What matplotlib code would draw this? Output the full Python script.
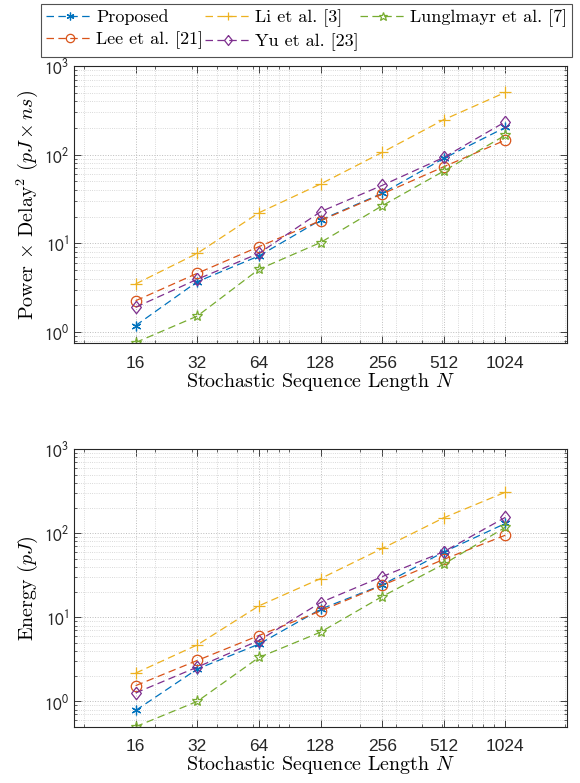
import matplotlib
matplotlib.use("Agg")
import matplotlib.pyplot as plt
from matplotlib.ticker import FixedLocator, FixedFormatter, LogLocator, NullFormatter

plt.rcParams['font.family'] = ['Liberation Sans', 'DejaVu Sans']
plt.rcParams['mathtext.fontset'] = 'stixsans'
plt.rcParams['axes.unicode_minus'] = False

# data
N = [16, 32, 64, 128, 256, 512, 1024]
n_labels = ['16', '32', '64', '128', '256', '512', '1024']

names = ['Proposed', 'Lee et al. [21]', 'Li et al. [3]', 'Yu et al. [23]', 'Lunglmayr et al. [7]']

pdd_proposed = [1.18, 3.69, 7.19, 18.3, 36.6, 90.8, 203]
pdd_lee = [2.25, 4.59, 9.16, 18.0, 36.0, 73, 146]
pdd_li = [3.48, 7.7, 22.1, 46.6, 106, 248, 504]
pdd_yu = [1.90, 3.93, 7.7, 22.7, 45, 93, 235]
pdd_lung = [0.76, 1.51, 5.09, 10.2, 26.5, 65.3, 166]

energy_proposed = [0.78, 2.43, 4.8, 12.5, 24.3, 60, 131]
energy_lee = [1.54, 3.07, 6.08, 11.9, 24, 49, 95]
energy_li = [2.17, 4.7, 13.7, 28.9, 66, 153, 309]
energy_yu = [1.26, 2.56, 5.3, 15, 30.5, 60.5, 155]
energy_lung = [0.50, 1.0, 3.33, 6.67, 17.7, 43, 118]

colors = ['#0072BD', '#D95319', '#EDB120', '#7E2F8E', '#77AC30']
# matlab-ish diamond (wider than mpl 'd')
diamond = [(0, 1), (0.78, 0), (0, -1), (-0.78, 0), (0, 1)]
markers = [(6, 2, 0), 'o', '+', diamond, '*']
msizes = [7, 7.5, 8, 9, 8]

fig = plt.figure(figsize=(5.8, 7.83), dpi=100)
ax1 = fig.add_axes([0.1276, 0.5619, 0.85, 0.3538])
ax2 = fig.add_axes([0.1276, 0.0719, 0.85, 0.3543])


def draw(ax, series, ylo, ylabel):
    handles = []
    for vals, c, m, ms, name in zip(series, colors, markers, msizes, names):
        h, = ax.plot(N, vals, linestyle=(0, (6, 3.5)), color=c, marker=m,
                     markersize=ms, markerfacecolor='none', markeredgecolor=c,
                     markeredgewidth=0.9, linewidth=0.9, label=name)
        handles.append(h)
    ax.set_xscale('log')
    ax.set_yscale('log')
    ax.set_xlim(8, 2048)
    ax.set_ylim(ylo, 1000)
    ax.xaxis.set_major_locator(FixedLocator(N))
    ax.xaxis.set_major_formatter(FixedFormatter(n_labels))
    ax.xaxis.set_minor_locator(LogLocator(base=10, subs=range(2, 10)))
    ax.xaxis.set_minor_formatter(NullFormatter())
    ax.yaxis.set_major_locator(FixedLocator([1, 10, 100, 1000]))
    ax.yaxis.set_major_formatter(FixedFormatter([r'$10^{0}$', r'$10^{1}$', r'$10^{2}$', r'$10^{3}$']))
    ax.yaxis.set_minor_locator(LogLocator(base=10, subs=range(2, 10)))
    ax.yaxis.set_minor_formatter(NullFormatter())
    ax.tick_params(which='both', direction='in', top=True, right=True,
                   color='#262626', labelsize=12.5, labelcolor='#262626')
    ax.tick_params(which='major', length=5, width=0.6)
    ax.tick_params(which='minor', length=2.5, width=0.5)
    ax.tick_params(axis='x', pad=9)
    ax.grid(True, which='major', linestyle=':', color='#bcbcbc', linewidth=0.7)
    ax.grid(True, which='minor', linestyle=':', color='#cdcdcd', linewidth=0.6)
    ax.set_axisbelow(True)
    for s in ax.spines.values():
        s.set_color('#262626')
        s.set_linewidth(0.8)
    ax.set_xlabel(r'Stochastic Sequence Length $N$', family='cmr10',
                  math_fontfamily='cm', fontsize=14.4, labelpad=0)
    ax.set_ylabel(ylabel, family='cmr10', math_fontfamily='cm', fontsize=14.4, labelpad=3)
    return handles


handles = draw(ax1, [pdd_proposed, pdd_lee, pdd_li, pdd_yu, pdd_lung], 0.75,
               r'Power $\times$ Delay$^2$ $(pJ\times ns)$')
draw(ax2, [energy_proposed, energy_lee, energy_li, energy_yu, energy_lung], 0.5,
     r'Energy $(pJ)$')

leg = fig.legend(handles, names,
                 loc='upper left', bbox_to_anchor=(41 / 580, 1 - 4 / 783), ncol=3,
                 prop={'family': 'cmr10', 'size': 13.0}, frameon=True, fancybox=False,
                 edgecolor='#262626', handlelength=2.6, handletextpad=0.15,
                 columnspacing=0.1, borderpad=0.3, labelspacing=0.35, borderaxespad=0,
                 markerscale=0.8)
leg.get_frame().set_linewidth(0.8)

fig.savefig('out.png', dpi=100)
